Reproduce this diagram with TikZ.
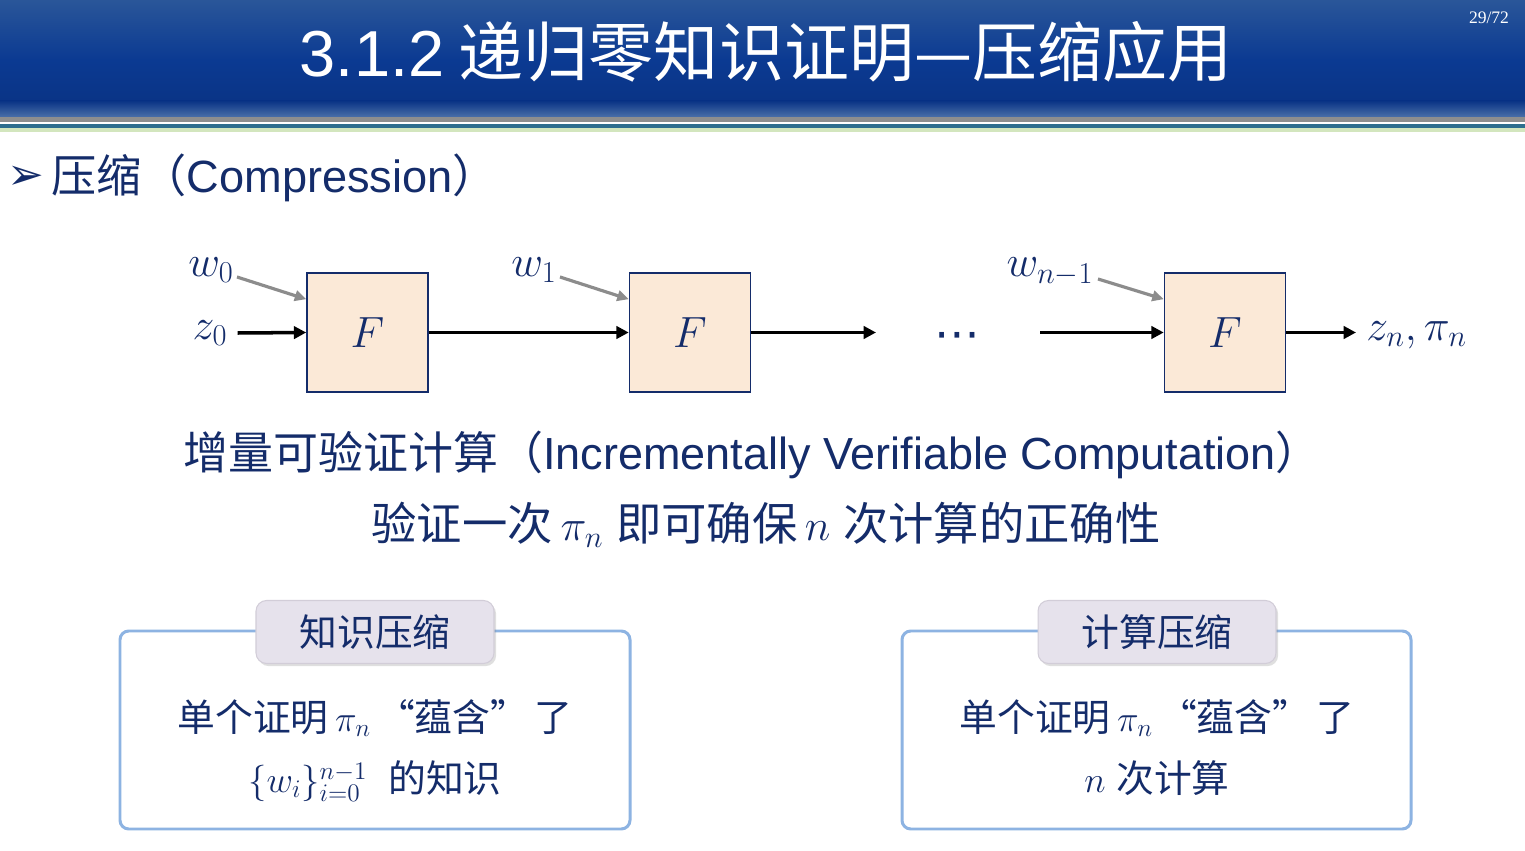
\documentclass[tikz,border=0pt]{standalone}
\usepackage{fontspec}
\setmainfont{Noto Sans CJK SC}
\newfontfamily\lat{Liberation Sans}
\newfontfamily\sym{DejaVu Sans}
\newfontfamily\pgnum{Liberation Serif}
\usetikzlibrary{arrows.meta,shadows}

\definecolor{navy}{HTML}{142C6A}
\definecolor{hdrtop}{HTML}{2A5699}
\definecolor{hdrmid}{HTML}{0B3A92}
\definecolor{hdrbot}{HTML}{0A3486}
\definecolor{hdrband}{HTML}{4A6FA8}
\definecolor{rulegray}{HTML}{8E8E8E}
\definecolor{ruleteal}{HTML}{2E6E8E}
\definecolor{rulegreen}{HTML}{D3E6BE}
\definecolor{boxfill}{HTML}{FBE9D7}
\definecolor{frame}{HTML}{8DB3E2}
\definecolor{tabfill}{HTML}{E6E2EC}
\definecolor{tabline}{HTML}{D2CDD8}
\definecolor{wire}{HTML}{8C8C8C}

\newcommand{\fs}[1]{\fontsize{#1}{1.2\dimexpr#1pt\relax}\selectfont}

\begin{document}
\begin{tikzpicture}[x=0.02cm,y=-0.02cm,
  txt/.style={text=navy,inner sep=0pt},
  fbox/.style={draw=navy,line width=0.9pt,fill=boxfill,minimum width=2.42cm,minimum height=2.38cm,inner sep=0pt,text=navy,font=\fs{31}},
  flow/.style={line width=2pt,black,-{Triangle[length=7pt,width=7pt]}},
  feed/.style={line width=1.8pt,wire,-{Triangle[length=6.5pt,width=6pt]}},
  lbl/.style={txt,font=\fs{24}},
  framebox/.style={draw=frame,line width=1.7pt,rounded corners=5pt,fill=white},
  tab/.style={fill=tabfill,draw=tabline,line width=0.6pt,rounded corners=6pt,minimum width=4.76cm,minimum height=1.26cm,text=navy,font=\fs{21.5},drop shadow={opacity=0.25,shadow xshift=1.2pt,shadow yshift=-1.5pt}},
  body/.style={txt,font=\fs{21.5}}]
\useasboundingbox (0,0) rectangle (1525,851);
\fill[white] (0,0) rectangle (1525,851);

% header band and rules
\shade[top color=hdrtop,bottom color=hdrmid] (0,0) rectangle (1525,60);
\shade[top color=hdrmid,bottom color=hdrbot] (0,60) rectangle (1525,101);
\shade[top color=hdrbot,bottom color=hdrband] (0,101) rectangle (1525,117);
\fill[rulegray] (0,117) rectangle (1525,122);
\fill[ruleteal] (0,124) rectangle (1525,128);
\fill[rulegreen] (0,128) rectangle (1525,132);

\node[text=white,inner sep=0pt,font=\fs{37}] (title) at (766,52)
  {{\lat 3.1.2} 递归零知识证明—压缩应用};
\node[text=white,inner sep=0pt,font=\pgnum\fs{10}] (page) at (1489,18) {29/72};

% section heading
\node[txt,font=\sym\fs{25}] (bullet) at (26,178) {➢};
\node[txt,anchor=west,font=\fs{25.7}] (head) at (51,178) {压缩（{\lat Compression}）};

% chain of F steps
\node[fbox] (f1) at (367.5,332.5) {$F$};
\node[fbox] (f2) at (690,332.5) {$F$};
\node[fbox] (f3) at (1225,332.5) {$F$};

\node[lbl] (w0) at (211,270) {$w_0$};
\node[lbl] (z0) at (210,333) {$z_0$};
\node[lbl] (w1) at (534,270) {$w_1$};
\node[lbl] (wn) at (1050,272) {$w_{n-1}$};
\node[lbl,anchor=west] (out) at (1366,335) {$z_n,\pi_n$};
\node[txt,font=\sym\fs{26}] (dots) at (957,341) {⋯};

\coordinate (c2) at (876,332.5);
\coordinate (c3) at (1040,332.5);
\coordinate (o3) at (1356,332.5);

\draw[flow] (z0.east) ++(10,0) -- (f1.west);
\draw[flow] (f1.east) -- (f2.west);
\draw[flow] (f2.east) -- (c2);
\draw[flow] (c3) -- (f3.west);
\draw[flow] (f3.east) -- (o3);

\draw[feed] (237,277) -- ([yshift=-0.54cm]f1.north west);
\draw[feed] (560,277) -- ([yshift=-0.54cm]f2.north west);
\draw[feed] (1098,279) -- ([yshift=-0.54cm]f3.north west);

% captions
\node[txt,font=\fs{25.6}] (ivc) at (752,455)
  {增量可验证计算（{\lat Incrementally Verifiable Computation}）};
\node[txt,font=\fs{25.8}] (once) at (766,525)
  {验证一次\,$\pi_n$\;即可确保\,$n$\;次计算的正确性};

% knowledge compression panel
\draw[framebox] (120,631) rectangle (630,829);
\node[tab] (tabk) at (375,632) {知识压缩};
\node[body] (k1) at (375,718) {单个证明\,$\pi_n$\,“蕴含”\,了};
\node[body] (k2) at (375,781) {$\{w_i\}_{i=0}^{n-1}$\;\;的知识};

% computation compression panel
\draw[framebox] (902,631) rectangle (1411,829);
\node[tab] (tabc) at (1157,632) {计算压缩};
\node[body] (c1) at (1157,718) {单个证明\,$\pi_n$\,“蕴含”\,了};
\node[body] (c2t) at (1157,778) {$n$\;次计算};
\end{tikzpicture}
\end{document}
